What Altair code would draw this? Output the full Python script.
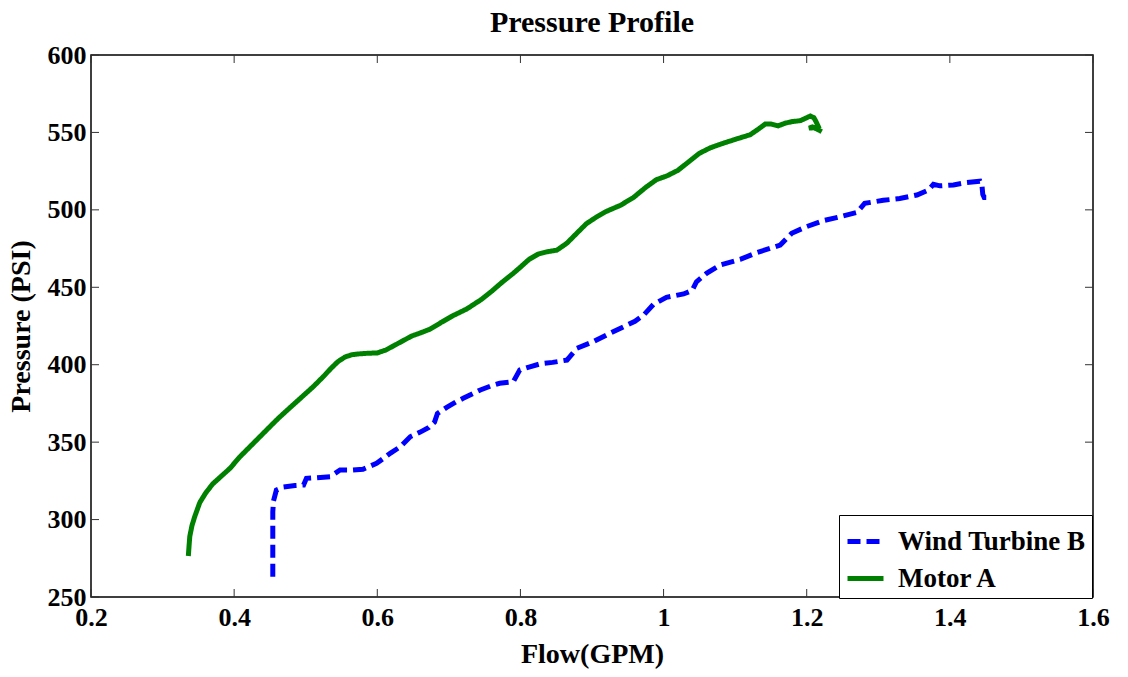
import altair as alt
import pandas as pd

# ---- data ----
series_names = ["Wind Turbine B", "Motor A"]

wt_flow = [0.454, 0.454, 0.454, 0.454, 0.455, 0.459, 0.469, 0.485, 0.497, 0.501,
           0.515, 0.534, 0.548, 0.565, 0.580, 0.599, 0.610, 0.618, 0.632, 0.646,
           0.660, 0.672, 0.680, 0.684, 0.697, 0.710, 0.720, 0.744, 0.760, 0.771,
           0.790, 0.799, 0.812, 0.827, 0.845, 0.865, 0.879, 0.902, 0.925, 0.944,
           0.960, 0.972, 0.986, 1.004, 1.028, 1.040, 1.046, 1.060, 1.079, 1.107,
           1.130, 1.163, 1.179, 1.200, 1.223, 1.247, 1.270, 1.281, 1.307, 1.330,
           1.354, 1.370, 1.377, 1.386, 1.405, 1.423, 1.442, 1.445, 1.446, 1.448,
           1.451]
wt_psi = [263.0, 275.0, 290.0, 305.0, 312.0, 319.0, 321.0, 322.0, 322.3, 326.6,
          327.0, 327.7, 332.0, 332.0, 332.5, 336.3, 340.0, 342.8, 347.0, 353.5,
          356.5, 359.5, 363.0, 368.5, 372.5, 376.0, 378.3, 383.7, 386.5, 388.0,
          389.0, 396.6, 398.5, 400.5, 401.5, 403.0, 410.6, 414.9, 420.3, 424.5,
          428.0, 432.0, 439.0, 443.5, 445.7, 448.0, 453.6, 459.0, 464.4, 468.0,
          472.3, 477.3, 484.9, 489.2, 493.0, 495.6, 498.3, 504.2, 506.2, 507.3,
          509.6, 512.8, 516.5, 515.5, 516.1, 517.6, 518.5, 515.0, 510.0, 508.0,
          508.0]

motor_flow = [0.336, 0.337, 0.338, 0.341, 0.345, 0.352, 0.360, 0.370, 0.382, 0.394,
              0.408, 0.422, 0.436, 0.450, 0.462, 0.475, 0.487, 0.499, 0.511, 0.525,
              0.535, 0.545, 0.555, 0.565, 0.575, 0.587, 0.600, 0.612, 0.624, 0.636,
              0.648, 0.660, 0.674, 0.690, 0.705, 0.725, 0.745, 0.760, 0.775, 0.790,
              0.800, 0.812, 0.825, 0.838, 0.851, 0.865, 0.879, 0.892, 0.905, 0.920,
              0.940, 0.958, 0.975, 0.990, 1.005, 1.020, 1.035, 1.050, 1.065, 1.080,
              1.100, 1.121, 1.132, 1.142, 1.150, 1.160, 1.170, 1.180, 1.191, 1.200,
              1.205, 1.210, 1.213, 1.216, 1.210, 1.203, 1.208, 1.215, 1.221]
motor_psi = [276.5, 283.0, 289.0, 296.0, 302.0, 311.0, 317.0, 323.0, 328.0, 333.0,
             340.5, 347.0, 353.5, 360.0, 365.5, 371.0, 376.0, 381.0, 386.0, 392.5,
             397.5, 402.0, 405.0, 406.5, 407.0, 407.4, 407.6, 409.5, 412.5, 415.5,
             418.5, 420.5, 423.0, 427.5, 431.5, 436.0, 442.0, 447.5, 453.5, 459.0,
             463.0, 468.0, 471.5, 473.0, 474.0, 478.5, 485.0, 491.0, 495.0, 499.0,
             503.0, 508.0, 514.5, 519.5, 522.0, 525.5, 531.0, 536.5, 540.0, 542.5,
             545.5, 548.5, 552.0, 555.4, 555.5, 554.2, 556.0, 557.0, 557.6, 559.5,
             560.6, 559.5, 557.0, 554.0, 553.0, 552.8, 553.5, 552.0, 550.5]

x_ticks = [0.2, 0.4, 0.6, 0.8, 1.0, 1.2, 1.4, 1.6]
y_ticks = [250, 300, 350, 400, 450, 500, 550, 600]

# ---- tables ----
df = pd.concat([
    pd.DataFrame({"flow": wt_flow, "psi": wt_psi, "series": series_names[0],
                  "idx": range(len(wt_flow))}),
    pd.DataFrame({"flow": motor_flow, "psi": motor_psi, "series": series_names[1],
                  "idx": range(len(motor_flow))}),
], ignore_index=True)
xt = pd.DataFrame({"flow": x_ticks})
yt = pd.DataFrame({"psi": y_ticks})

W, H = 1002, 542
FONT = "Liberation Serif"
TICK = 8

xscale = alt.Scale(domain=[0.2, 1.6], nice=False, zero=False)
yscale = alt.Scale(domain=[250, 600], nice=False, zero=False)

x_axis = alt.Axis(values=x_ticks, format="~g", title="Flow(GPM)", grid=False,
                  domain=False, ticks=False, labelPadding=7, titlePadding=10,
                  labelFlush=False, labelOverlap=False)
y_axis = alt.Axis(values=y_ticks, format="d", title="Pressure (PSI)", grid=False,
                  domain=False, ticks=False, labelPadding=5, titlePadding=12,
                  labelFlush=False, labelOverlap=False)

leg = alt.Legend(title=None, orient="none", legendX=748, legendY=460,
                 strokeColor="black", fillColor="white", padding=6,
                 rowPadding=3, symbolType="stroke", symbolSize=1296,
                 symbolStrokeWidth=5, labelOffset=12, labelLimit=400)

lines = alt.Chart(df).mark_line(strokeWidth=5).encode(
    x=alt.X("flow:Q", scale=xscale, axis=x_axis),
    y=alt.Y("psi:Q", scale=yscale, axis=y_axis),
    color=alt.Color("series:N",
                    scale=alt.Scale(domain=series_names, range=["#0000FF", "#008000"]),
                    legend=leg),
    strokeDash=alt.StrokeDash("series:N",
                              scale=alt.Scale(domain=series_names, range=[[13, 6], [1, 0]]),
                              legend=leg),
    order="idx:Q",
)

tick_style = dict(color="#333333", strokeWidth=1)
bottom_ticks = alt.Chart(xt).mark_rule(**tick_style).encode(
    x=alt.X("flow:Q", scale=xscale, axis=x_axis), y=alt.value(H), y2=alt.value(H - TICK))
top_ticks = alt.Chart(xt).mark_rule(**tick_style).encode(
    x=alt.X("flow:Q", scale=xscale, axis=x_axis), y=alt.value(0), y2=alt.value(TICK))
left_ticks = alt.Chart(yt).mark_rule(**tick_style).encode(
    y=alt.Y("psi:Q", scale=yscale, axis=y_axis), x=alt.value(0), x2=alt.value(TICK))
right_ticks = alt.Chart(yt).mark_rule(**tick_style).encode(
    y=alt.Y("psi:Q", scale=yscale, axis=y_axis), x=alt.value(W), x2=alt.value(W - TICK))

chart = alt.layer(bottom_ticks, top_ticks, left_ticks, right_ticks, lines).properties(
    width=W, height=H,
    title=alt.TitleParams("Pressure Profile", font=FONT, fontSize=30, fontWeight="bold",
                          color="black", anchor="middle", offset=4),
    autosize=alt.AutoSizeParams(type="none"),
    padding={"left": 91, "top": 55, "right": 35, "bottom": 80},
).configure_view(
    stroke="black", strokeWidth=1.5
).configure_axis(
    labelFont=FONT, labelFontSize=26, labelFontWeight="bold", labelColor="black",
    titleFont=FONT, titleFontSize=28, titleFontWeight="bold", titleColor="black",
).configure_legend(
    labelFont=FONT, labelFontSize=27, labelFontWeight="bold", labelColor="black",
)

chart.save("out.html", embed_options={"renderer": "svg", "actions": False})
